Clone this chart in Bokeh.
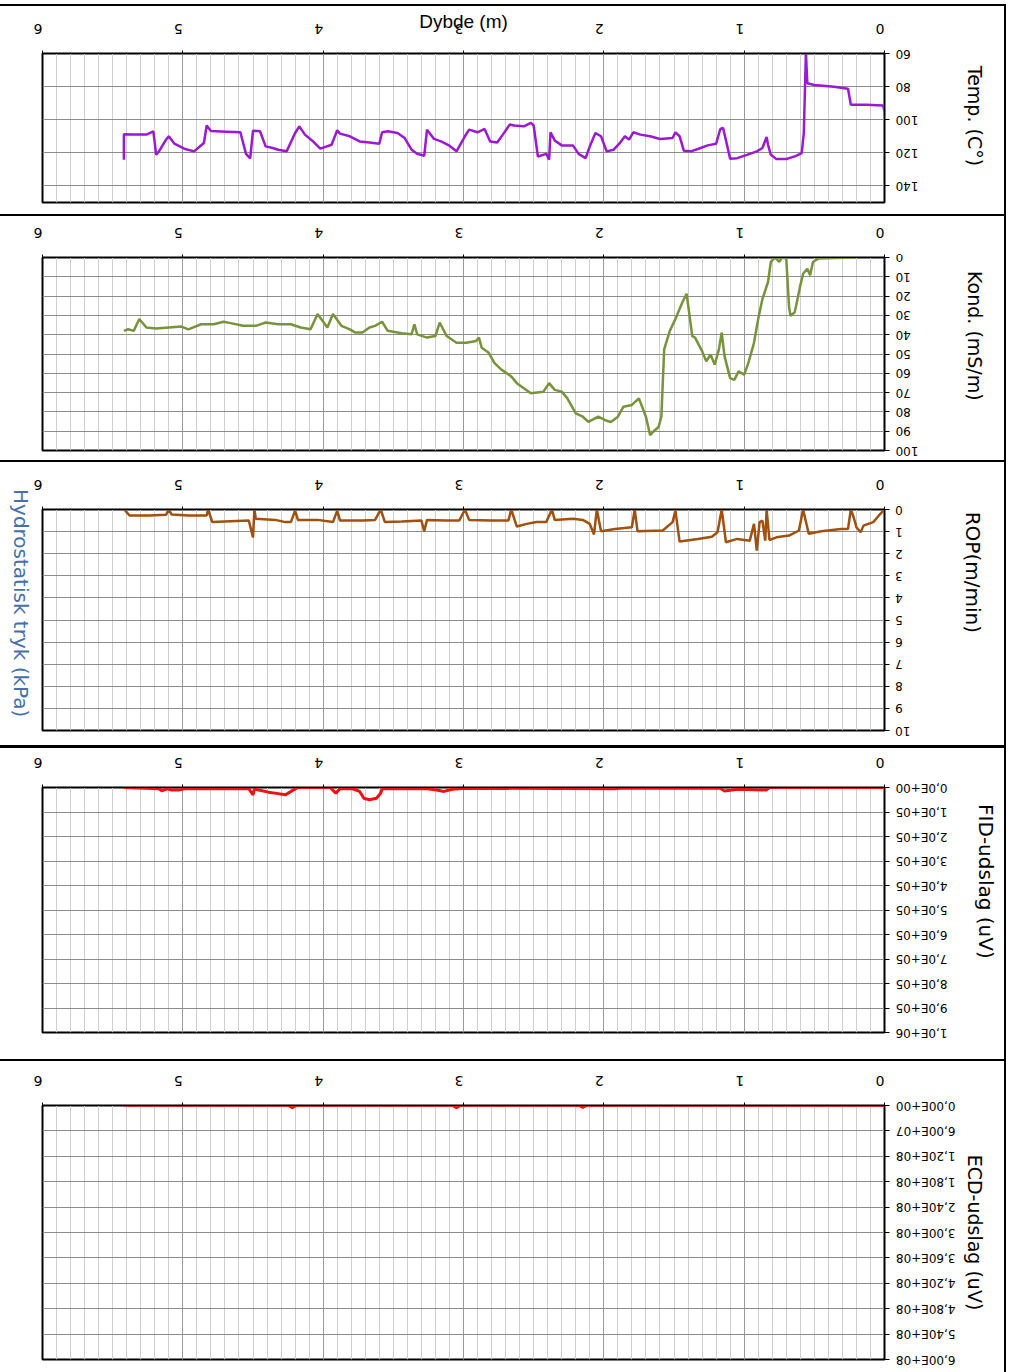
import math
from bokeh.plotting import figure
from bokeh.models import Range1d, FixedTicker, CustomJSTickFormatter, Div
from bokeh.layouts import column, row
from bokeh.embed import file_html
from bokeh.resources import INLINE

# ---------------- data ----------------
depth_ticks = [0, 1, 2, 3, 4, 5, 6]
depth_minor = [round(i * 0.1, 1) for i in range(61)]

temp_depth = [0.00, 0.01, 0.13, 0.24, 0.26, 0.36, 0.50, 0.55, 0.56, 0.575, 0.59, 0.63, 0.70, 0.77,
              0.81, 0.83, 0.84, 0.87, 0.91, 0.98, 1.05, 1.10, 1.12, 1.15, 1.17, 1.20, 1.26, 1.33,
              1.38, 1.43, 1.46, 1.49, 1.51, 1.60, 1.67, 1.74, 1.79, 1.82, 1.85, 1.89, 1.93, 1.98,
              2.02, 2.06, 2.10, 2.13, 2.18, 2.22, 2.30, 2.35, 2.38, 2.39, 2.41, 2.47, 2.50, 2.52,
              2.57, 2.64, 2.67, 2.72, 2.76, 2.81, 2.85, 2.90, 2.96, 2.99, 3.05, 3.10, 3.16, 3.21,
              3.26, 3.28, 3.33, 3.37, 3.42, 3.47, 3.54, 3.58, 3.60, 3.67, 3.74, 3.81, 3.88, 3.90,
              3.94, 4.02, 4.08, 4.13, 4.17, 4.20, 4.26, 4.32, 4.36, 4.41, 4.45, 4.50, 4.52, 4.55,
              4.59, 4.69, 4.80, 4.83, 4.85, 4.92, 4.99, 5.06, 5.10, 5.12, 5.17, 5.19, 5.21, 5.26,
              5.35, 5.42, 5.42]
temp_vals = [94.8, 91.4, 91.0, 91.0, 81.3, 80.1, 79.0, 78.0, 59.4, 108.0, 120.2, 121.8, 123.8, 123.8,
             121.2, 115.1, 110.4, 117.1, 119.1, 121.2, 123.2, 123.6, 116.1, 105.0, 105.6, 114.5, 115.5, 117.7,
             119.1, 118.7, 110.0, 107.6, 111.0, 111.6, 110.0, 109.0, 107.6, 112.0, 110.0, 114.5, 118.1, 119.1,
             110.0, 108.0, 116.1, 123.2, 120.6, 115.5, 115.5, 112.5, 107.6, 124.2, 120.6, 122.2, 103.5, 101.9,
             104.0, 103.5, 102.9, 109.0, 113.7, 113.1, 105.6, 107.6, 106.0, 110.0, 119.1, 115.7, 113.1, 111.6,
             106.0, 121.8, 120.6, 118.1, 111.0, 108.0, 107.0, 107.6, 114.5, 113.7, 113.1, 110.0, 108.4, 106.4,
             115.1, 117.5, 112.5, 109.0, 104.0, 108.0, 119.1, 118.1, 117.1, 116.1, 107.0, 106.6, 123.4, 120.6,
             107.6, 107.2, 106.8, 103.5, 114.1, 119.1, 117.5, 114.5, 110.0, 112.0, 119.1, 121.2, 107.0, 109.0,
             109.0, 108.8, 124.2]

kond_depth = [0.22, 0.47, 0.51, 0.53, 0.55, 0.58, 0.60, 0.63, 0.64, 0.67, 0.68, 0.70, 0.73, 0.75,
              0.78, 0.81, 0.83, 0.87, 0.90, 0.93, 0.97, 1.00, 1.04, 1.07, 1.10, 1.14, 1.16, 1.18,
              1.21, 1.24, 1.27, 1.30, 1.35, 1.37, 1.41, 1.44, 1.49, 1.53, 1.57, 1.59, 1.61, 1.65,
              1.67, 1.70, 1.75, 1.80, 1.86, 1.90, 1.95, 1.99, 2.04, 2.11, 2.15, 2.20, 2.26, 2.30,
              2.35, 2.39, 2.43, 2.52, 2.62, 2.66, 2.73, 2.78, 2.82, 2.87, 2.89, 2.91, 2.98, 3.05,
              3.12, 3.17, 3.20, 3.26, 3.33, 3.35, 3.37, 3.44, 3.54, 3.58, 3.63, 3.67, 3.72, 3.77,
              3.81, 3.87, 3.93, 3.97, 4.04, 4.09, 4.16, 4.23, 4.32, 4.41, 4.48, 4.57, 4.66, 4.71,
              4.78, 4.87, 4.96, 5.01, 5.10, 5.19, 5.26, 5.31, 5.35, 5.39, 5.42]
kond_vals = [0.0, 0.5, 2.3, 9.2, 5.8, 8.4, 14.5, 25.0, 28.4, 30.2, 25.8, 0.5, 0.0, 2.3,
             0.0, 2.3, 12.7, 21.5, 31.9, 44.2, 54.6, 60.7, 59.0, 63.4, 62.5, 51.1, 38.9, 47.6,
             55.5, 50.3, 53.8, 48.5, 41.5, 40.7, 18.8, 23.2, 31.9, 38.0, 47.6, 82.5, 87.8, 90.4,
             92.1, 82.5, 73.0, 76.4, 77.3, 82.5, 85.2, 84.3, 82.5, 85.2, 82.5, 80.8, 73.0, 69.5,
             68.6, 65.1, 69.5, 70.3, 65.1, 61.6, 58.1, 54.6, 49.4, 46.8, 41.5, 43.3, 44.2, 44.2,
             40.7, 33.7, 40.7, 41.5, 39.8, 34.6, 39.8, 39.3, 38.0, 33.3, 35.4, 36.3, 38.9, 38.9,
             37.2, 35.4, 29.3, 36.3, 29.3, 37.2, 36.3, 34.6, 34.6, 33.7, 35.4, 35.4, 34.0, 33.3,
             34.6, 34.6, 37.2, 35.8, 36.3, 36.8, 36.3, 31.9, 38.0, 37.2, 38.0]

rop_depth = [0.00, 0.04, 0.08, 0.15, 0.17, 0.20, 0.22, 0.24, 0.26, 0.31, 0.45, 0.54, 0.58, 0.61,
             0.68, 0.77, 0.82, 0.84, 0.85, 0.87, 0.89, 0.91, 0.93, 0.96, 1.05, 1.13, 1.16, 1.19,
             1.23, 1.33, 1.46, 1.49, 1.51, 1.58, 1.76, 1.78, 1.80, 1.92, 2.02, 2.05, 2.07, 2.10,
             2.15, 2.22, 2.35, 2.37, 2.41, 2.48, 2.55, 2.62, 2.66, 2.68, 2.80, 2.96, 2.99, 3.03,
             3.12, 3.26, 3.28, 3.30, 3.44, 3.56, 3.59, 3.63, 3.72, 3.88, 3.90, 3.93, 4.04, 4.18,
             4.20, 4.23, 4.27, 4.34, 4.48, 4.49, 4.50, 4.53, 4.79, 4.82, 4.83, 4.96, 5.08, 5.10,
             5.12, 5.24, 5.38, 5.41, 5.42]
rop_vals = [0.00, 0.27, 0.57, 0.73, 1.03, 0.80, 0.35, 0.00, 0.88, 0.88, 0.98, 1.10, 0.00, 0.95,
            1.18, 1.26, 1.38, 0.00, 1.41, 0.50, 0.57, 1.86, 0.65, 1.41, 1.33, 1.48, 0.00, 1.03,
            1.23, 1.33, 1.45, 0.05, 0.57, 0.95, 0.98, 0.00, 0.80, 0.88, 0.98, 0.00, 1.13, 0.65,
            0.47, 0.42, 0.47, 0.00, 0.57, 0.57, 0.65, 0.77, 0.00, 0.50, 0.50, 0.47, 0.00, 0.50,
            0.50, 0.47, 0.98, 0.50, 0.54, 0.57, 0.00, 0.47, 0.50, 0.50, 0.05, 0.57, 0.47, 0.47,
            0.05, 0.57, 0.57, 0.47, 0.42, 0.00, 1.26, 0.50, 0.57, 0.00, 0.27, 0.27, 0.23, 0.00,
            0.24, 0.27, 0.27, 0.05, 0.00]

fid_depth = [0.00, 0.82, 0.84, 1.05, 1.14, 1.17, 1.88, 1.92, 2.98, 3.08, 3.14, 3.19, 3.26, 3.58,
             3.59, 3.62, 3.67, 3.71, 3.74, 3.79, 3.88, 3.91, 3.95, 4.18, 4.23, 4.27, 4.32, 4.39,
             4.46, 4.49, 4.50, 4.53, 4.99, 5.03, 5.08, 5.11, 5.15, 5.17, 5.42]
fid_vals = [0.0, 0.0, 10000, 7000, 14000, 3000, 3000, 5000, 3000, 7000, 16000, 10000, 5000, 5000,
            23000, 44000, 50000, 44000, 16000, 5000, 5000, 23000, 0.0, 0.0, 16000, 30000, 25000, 19000,
            10000, 5000, 30000, 5000, 5000, 10000, 10000, 5000, 14000, 5000, 0.0]

ecd_depth = [0.00, 2.12, 2.15, 2.18, 3.02, 3.05, 3.08, 4.19, 4.22, 4.25, 5.42]
ecd_vals = [0.0, 0.0, 5.0e6, 0.0, 0.0, 6.0e6, 0.0, 0.0, 6.0e6, 0.0, 0.0]

temp_ticks = [60, 80, 100, 120, 140]
kond_ticks = [0, 10, 20, 30, 40, 50, 60, 70, 80, 90, 100]
rop_ticks = [0, 1, 2, 3, 4, 5, 6, 7, 8, 9, 10]
fid_ticks = [i * 1.0e5 for i in range(11)]
ecd_ticks = [i * 6.0e7 for i in range(11)]

FONT = "DejaVu Sans"
W = 1004
FRAME_LEFT = 42
FRAME_RIGHT = 884
NB = "\u00a0"


def padded_int_formatter(maxlen):
    # upside-down labels: pad at the start with no-break spaces (2 per digit)
    return CustomJSTickFormatter(code="""
        const s = '' + Math.round(tick);
        const n = %d - s.length;
        return '\\u00a0'.repeat(Math.max(0, 2 * n)) + s;
    """ % maxlen)


def sci_formatter(decimals):
    return CustomJSTickFormatter(code="""
        const d = %d;
        if (tick === 0) { return (0).toFixed(d).replace('.', ',') + 'E+00'; }
        let e = Math.floor(Math.log10(Math.abs(tick)) + 1e-9);
        let m = tick / Math.pow(10, e);
        if (Math.abs(m) >= 9.9999) { m = m / 10; e = e + 1; }
        const es = (e < 10 ? '0' + e : '' + e);
        return m.toFixed(d).replace('.', ',') + 'E+' + es;
    """ % decimals)


def panel(height, top, bottom, ybottom, ytop, yticks, title, title_size, label_standoff,
          title_standoff, fmt, width=W, left=FRAME_LEFT):
    p = figure(width=width, height=height, output_backend="svg", toolbar_location=None,
               x_range=Range1d(6, 0), y_range=Range1d(ybottom, ytop),
               x_axis_location="above", y_axis_location="right",
               min_border_left=left,
               min_border_right=width - left - (FRAME_RIGHT - FRAME_LEFT),
               min_border_top=top, min_border_bottom=bottom)
    p.background_fill_color = "white"
    p.border_fill_color = "white"
    p.outline_line_color = "black"
    p.outline_line_width = 2

    xa = p.xaxis[0]
    xa.ticker = FixedTicker(ticks=depth_ticks, minor_ticks=depth_minor)
    xa.major_label_orientation = math.pi
    xa.major_label_text_align = "center"
    xa.major_label_text_font = FONT
    xa.major_label_text_font_size = "14px"
    xa.major_label_text_color = "black"
    xa.major_label_standoff = 21
    xa.major_tick_out = 3
    xa.major_tick_in = 0
    xa.minor_tick_line_color = None
    xa.axis_line_color = "black"
    xa.major_tick_line_color = "black"

    ya = p.yaxis[0]
    ya.ticker = FixedTicker(ticks=yticks)
    ya.formatter = fmt
    ya.major_label_orientation = math.pi
    ya.major_label_text_font = FONT
    ya.major_label_text_font_size = "12px"
    ya.major_label_text_color = "black"
    ya.major_label_standoff = label_standoff
    ya.major_tick_out = 5
    ya.major_tick_in = 0
    ya.minor_tick_line_color = None
    ya.axis_line_color = "black"
    ya.major_tick_line_color = "black"
    ya.axis_label = title
    ya.axis_label_text_font = FONT
    ya.axis_label_text_font_size = title_size
    ya.axis_label_text_font_style = "normal"
    ya.axis_label_text_color = "black"
    ya.axis_label_standoff = title_standoff

    p.xgrid.grid_line_color = "#9a9a9a"
    p.xgrid.grid_line_width = 1
    p.xgrid.minor_grid_line_color = "#cfcfcf"
    p.xgrid.minor_grid_line_width = 1
    p.ygrid.grid_line_color = "#8c8c8c"
    p.ygrid.grid_line_width = 1
    return p


# titles are not centred on the frame in the original: trailing no-break spaces move them up
p1 = panel(208, 47, 12, 150, 60, temp_ticks, "Temp. (C°)" + NB * 4, "19px", 29, 20,
           padded_int_formatter(3))
p1.line(temp_depth, temp_vals, line_color="#9b19d1", line_width=2.5)
p1.xaxis[0].axis_label = "Dybde (m)"
p1.xaxis[0].axis_label_text_font = "Liberation Sans"
p1.xaxis[0].axis_label_text_font_size = "19px"
p1.xaxis[0].axis_label_text_font_style = "normal"
p1.xaxis[0].axis_label_text_color = "black"
p1.xaxis[0].axis_label_standoff = -16

p2 = panel(244, 41, 10, 100, 0, kond_ticks, "Kond. (mS/m)" + NB * 6, "19px", 29, 20,
           padded_int_formatter(3))
p2.line(kond_depth, kond_vals, line_color="#77933c", line_width=2.5)

HYDRO_W = 30
p3 = panel(283, 47, 15, 10, 0, rop_ticks, "ROP(m/min)" + NB * 15, "20px", 21, 32,
           padded_int_formatter(2), width=W - HYDRO_W, left=FRAME_LEFT - HYDRO_W)
p3.line(rop_depth, rop_vals, line_color="#a0500f", line_width=2.5)

p4 = panel(311, 39, 27, 1.0e6, 0, fid_ticks, "FID-udslag (uV)" + NB * 9, "20px", 58, -28,
           sci_formatter(1))
p4.line(fid_depth, fid_vals, line_color="#ee1111", line_width=3)

p5 = panel(311, 44, 13, 6.0e8, 0, ecd_ticks, "ECD-udslag (uV)", "19px", 66, -54,
           sci_formatter(2))
p5.line(ecd_depth, ecd_vals, line_color="#ee1111", line_width=2.5)


def bar(w, h, color):
    return Div(text="", width=w, height=h, margin=0, styles={"background-color": color})


hydro = Div(
    text=('<div style="writing-mode:vertical-rl; font-family:\'DejaVu Sans\'; font-size:20px; '
          'color:#4a6fa8; margin-top:27px; margin-left:6px; white-space:nowrap;">'
          'Hydrostatisk tryk (kPa)</div>'),
    width=HYDRO_W, height=283, margin=0)

left_col = column(
    bar(W, 4, "white"), bar(W, 2, "black"),
    p1, bar(W, 2, "black"),
    p2, bar(W, 2, "black"),
    row(hydro, p3, spacing=0), bar(W, 3, "black"),
    p4, bar(W, 2, "black"),
    p5,
    spacing=0)
right_col = column(bar(2, 4, "white"), bar(2, 1368, "black"), spacing=0)
layout = row(left_col, right_col, spacing=0)

open("out.html", "w").write(file_html(layout, INLINE))
